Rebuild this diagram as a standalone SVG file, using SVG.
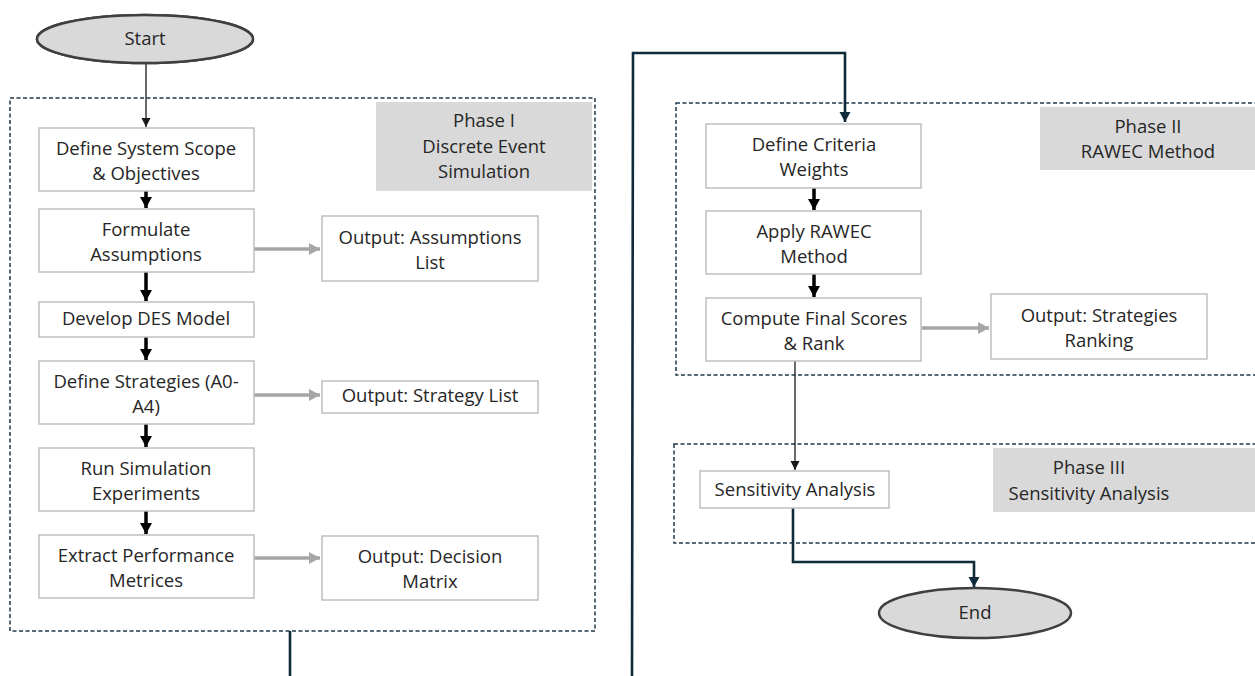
<svg xmlns="http://www.w3.org/2000/svg" width="1255" height="676" viewBox="0 0 1255 676">
  <style>
    .box { fill: #ffffff; stroke: #bfbfbf; stroke-width: 1.5; }
    .phase { fill: #d9d9d9; stroke: none; }
    .group { fill: none; stroke: #1f394b; stroke-width: 1.5; stroke-dasharray: 4 2.5; }
    .term { fill: #d9d9d9; stroke: #3f3f3f; stroke-width: 2.5; }
    text { font-family: "Open Sans", "Liberation Sans", sans-serif; font-size: 18.5px; fill: #262626; text-anchor: middle; }
    .flow { stroke: #000000; stroke-width: 3.5; fill: none; }
    .out { stroke: #a6a6a6; stroke-width: 3.5; fill: none; }
    .thin { stroke: #1a1a1a; stroke-width: 1.3; fill: none; }
    .link { stroke: #0e2a3b; stroke-width: 2.6; fill: none; }
  </style>
  <defs>
    <marker id="headBlack" markerUnits="userSpaceOnUse" markerWidth="12" markerHeight="12" viewBox="0 0 12 12" refX="11" refY="6" orient="auto">
      <path d="M0,0 L11,6 L0,12 Z" fill="#000000"/>
    </marker>
    <marker id="headGray" markerUnits="userSpaceOnUse" markerWidth="12" markerHeight="12" viewBox="0 0 12 12" refX="11" refY="6" orient="auto">
      <path d="M0,0 L11,6 L0,12 Z" fill="#a6a6a6"/>
    </marker>
    <marker id="headThin" markerUnits="userSpaceOnUse" markerWidth="10" markerHeight="10" viewBox="0 0 10 10" refX="9" refY="5" orient="auto">
      <path d="M0,0.5 L9,5 L0,9.5 Z" fill="#1a1a1a"/>
    </marker>
    <marker id="headNavy" markerUnits="userSpaceOnUse" markerWidth="12" markerHeight="12" viewBox="0 0 12 12" refX="10" refY="6" orient="auto">
      <path d="M0,0.5 L10,6 L0,11.5 Z" fill="#0e2a3b"/>
    </marker>
    <filter id="soft" x="-10%" y="-20%" width="120%" height="140%">
      <feGaussianBlur stdDeviation="0.6"/>
    </filter>
  </defs>

  <!-- phase containers -->
  <g id="phase1">
    <rect class="group" x="10" y="98" width="585" height="533"/>
    <rect class="phase" x="376" y="102" width="216" height="89"/>
    <text x="484" y="127">Phase I</text>
    <text x="484" y="153">Discrete Event</text>
    <text x="484" y="178">Simulation</text>
  </g>
  <g id="phase2">
    <rect class="group" x="676" y="103" width="590" height="272"/>
    <rect class="phase" x="1040" y="107" width="215" height="63"/>
    <text x="1148" y="133">Phase II</text>
    <text x="1148" y="158">RAWEC Method</text>
  </g>
  <g id="phase3">
    <rect class="group" x="674" y="444" width="592" height="99"/>
    <rect class="phase" x="993" y="448" width="262" height="64"/>
    <text x="1089" y="474">Phase III</text>
    <text x="1089" y="500">Sensitivity Analysis</text>
  </g>

  <!-- connectors -->
  <g id="connectors">
    <line class="thin" x1="146" y1="64" x2="146" y2="127" marker-end="url(#headThin)"/>
    <line class="flow" x1="146" y1="191" x2="146" y2="208" marker-end="url(#headBlack)"/>
    <line class="flow" x1="146" y1="272" x2="146" y2="301" marker-end="url(#headBlack)"/>
    <line class="flow" x1="146" y1="337" x2="146" y2="360" marker-end="url(#headBlack)"/>
    <line class="flow" x1="146" y1="424" x2="146" y2="447" marker-end="url(#headBlack)"/>
    <line class="flow" x1="146" y1="511" x2="146" y2="534" marker-end="url(#headBlack)"/>
    <line class="out" x1="254" y1="249" x2="320" y2="249" marker-end="url(#headGray)"/>
    <line class="out" x1="254" y1="395" x2="320" y2="395" marker-end="url(#headGray)"/>
    <line class="out" x1="254" y1="558" x2="320" y2="558" marker-end="url(#headGray)"/>
    <line class="link" x1="290" y1="631" x2="290" y2="680"/>
    <polyline class="link" points="632,680 633,53 845,53 845,122" marker-end="url(#headNavy)"/>
    <line class="flow" x1="814" y1="188" x2="814" y2="210" marker-end="url(#headBlack)"/>
    <line class="flow" x1="814" y1="274" x2="814" y2="297" marker-end="url(#headBlack)"/>
    <line class="out" x1="922" y1="328" x2="989" y2="328" marker-end="url(#headGray)"/>
    <line class="thin" x1="795" y1="361" x2="795" y2="470" marker-end="url(#headThin)"/>
    <polyline class="link" points="793,508 793,562 974,562 974,587" marker-end="url(#headNavy)"/>
  </g>

  <!-- terminals -->
  <g id="start">
    <ellipse class="term" cx="145" cy="39" rx="108" ry="24" filter="url(#soft)"/>
    <ellipse class="term" cx="145" cy="39" rx="108" ry="24"/>
    <text x="145" y="45">Start</text>
  </g>
  <g id="end">
    <ellipse class="term" cx="975" cy="613" rx="96" ry="25"/>
    <text x="975" y="619">End</text>
  </g>

  <!-- Phase I steps -->
  <g id="define-scope">
    <rect class="box" x="39" y="128" width="215" height="63"/>
    <text x="146" y="155">Define System Scope</text>
    <text x="146" y="180">&amp; Objectives</text>
  </g>
  <g id="formulate-assumptions">
    <rect class="box" x="39" y="209" width="215" height="63"/>
    <text x="146" y="236">Formulate</text>
    <text x="146" y="261">Assumptions</text>
  </g>
  <g id="develop-model">
    <rect class="box" x="39" y="302" width="215" height="35"/>
    <text x="146" y="325">Develop DES Model</text>
  </g>
  <g id="define-strategies">
    <rect class="box" x="39" y="361" width="215" height="63"/>
    <text x="146" y="388">Define Strategies (A0-</text>
    <text x="146" y="413">A4)</text>
  </g>
  <g id="run-simulation">
    <rect class="box" x="39" y="448" width="215" height="63"/>
    <text x="146" y="475">Run Simulation</text>
    <text x="146" y="500">Experiments</text>
  </g>
  <g id="extract-metrics">
    <rect class="box" x="39" y="535" width="215" height="63"/>
    <text x="146" y="562">Extract Performance</text>
    <text x="146" y="587">Metrices</text>
  </g>

  <!-- Phase I outputs -->
  <g id="out-assumptions">
    <rect class="box" x="322" y="216" width="216" height="65"/>
    <text x="430" y="244">Output: Assumptions</text>
    <text x="430" y="269">List</text>
  </g>
  <g id="out-strategies">
    <rect class="box" x="322" y="381" width="216" height="32"/>
    <text x="430" y="402">Output: Strategy List</text>
  </g>
  <g id="out-matrix">
    <rect class="box" x="322" y="536" width="216" height="64"/>
    <text x="430" y="563">Output: Decision</text>
    <text x="430" y="588">Matrix</text>
  </g>

  <!-- Phase II steps -->
  <g id="criteria-weights">
    <rect class="box" x="706" y="124" width="215" height="64"/>
    <text x="814" y="151">Define Criteria</text>
    <text x="814" y="176">Weights</text>
  </g>
  <g id="apply-rawec">
    <rect class="box" x="706" y="211" width="215" height="63"/>
    <text x="814" y="238">Apply RAWEC</text>
    <text x="814" y="263">Method</text>
  </g>
  <g id="final-scores">
    <rect class="box" x="706" y="298" width="215" height="63"/>
    <text x="814" y="325">Compute Final Scores</text>
    <text x="814" y="350">&amp; Rank</text>
  </g>
  <g id="out-ranking">
    <rect class="box" x="991" y="294" width="216" height="65"/>
    <text x="1099" y="322">Output: Strategies</text>
    <text x="1099" y="347">Ranking</text>
  </g>

  <!-- Phase III step -->
  <g id="sensitivity">
    <rect class="box" x="700" y="471" width="189" height="37"/>
    <text x="795" y="496">Sensitivity Analysis</text>
  </g>
</svg>
